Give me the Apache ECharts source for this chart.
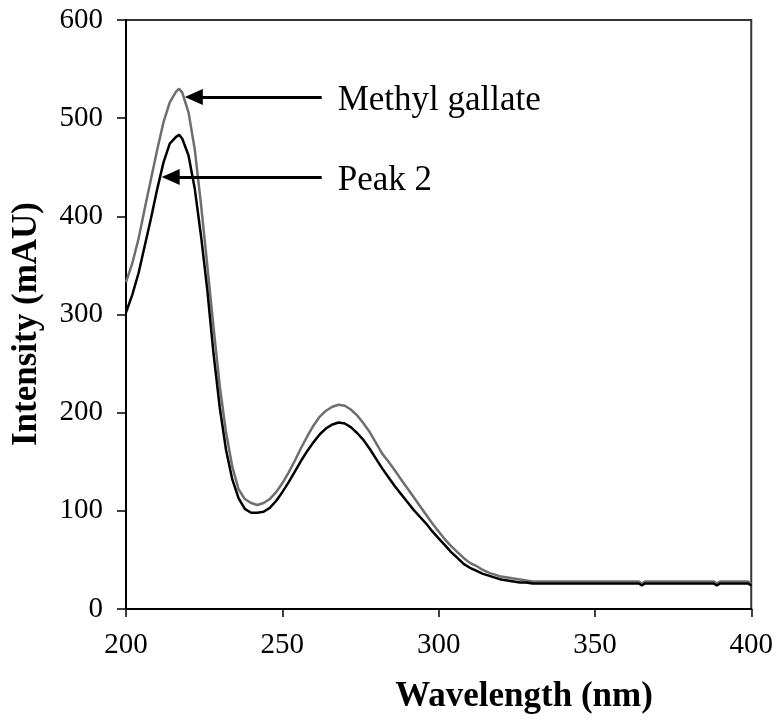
<!DOCTYPE html>
<html>
<head>
<meta charset="utf-8">
<script src="https://cdn.jsdelivr.net/npm/echarts@6/dist/echarts.min.js"></script>
<style>
html,body{margin:0;padding:0;background:#fff;}
#chart{width:776px;height:727px;}
</style>
</head>
<body>
<div id="chart"></div>
<script>
// Wavelength (nm)
const wavelengths = [200,202,204,206,208,210,212,214,216,217,218,220,222,224,226,228,230,232,234,236,238,240,242,244,246,248,250,252,254,256,258,260,262,264,266,268,270,272,274,276,278,280,282,284,286,288,290,292,294,296,298,300,302,304,306,308,310,312,314,316,318,320,322,324,326,328,330,335,340,345,350,355,360,364,365,366,370,375,380,385,388,389,390,395,399,400];
// Methyl gallate (grey)
const methylGallate = [333,352,377,408,438,468,496,516,527,530,526,506,468,412,350,287,227,180,145,122,112,108,106,108,112,119,128,139,151,164,176,187,196,202,206,208,207,203,197,189,180,169,158,150,141,132,123,114,105,96,87,79,71,64,58,52,47,44,40,37,35,33,32,31,30,29,28,28,28,28,28,28,28,28,26,28,28,28,28,28,28,26,28,28,28,26];
// Peak 2 (black)
const peak2 = [302,320,342,370,398,428,455,474,481,483,479,462,428,380,325,260,205,162,132,113,102,98,98,99,103,110,119,129,140,151,161,170,178,184,188,190,189,185,179,172,163,153,143,134,125,117,109,101,94,87,79,72,65,58,52,46,42,39,36,34,32,30,29,28,27,27,26,26,26,26,26,26,26,26,24,26,26,26,26,26,26,24,26,26,26,24];
const xTicks = [200,250,300,350,400];
const yTicks = [0,100,200,300,400,500,600];
// Annotations: [arrow start (wl, value), arrow end wl, label]
const annotations = [
  { label: 'Methyl gallate', from: [221.7, 521.5], toX: 262.6 },
  { label: 'Peak 2', from: [214.3, 440], toX: 262.6 }
];

const FONT = '"Liberation Serif", "DejaVu Serif", serif';
const chart = echarts.init(document.getElementById('chart'), null, {renderer: 'canvas'});

const toPairs = ys => wavelengths.map((w, i) => [w, ys[i]]);

const option = {
  animation: false,
  backgroundColor: '#fff',
  grid: { left: 126, right: 24, top: 20, bottom: 118, show: true, borderColor: '#333', borderWidth: 2, backgroundColor: 'transparent' },
  xAxis: {
    type: 'value', min: xTicks[0], max: xTicks[xTicks.length-1], interval: 50,
    axisLine: { show: true, onZero: false, lineStyle: { color: '#000', width: 2 } },
    axisTick: { show: true, inside: false, length: 8, lineStyle: { color: '#000', width: 1.5 } },
    axisLabel: { margin: 22, fontFamily: FONT, fontSize: 29, color: '#000' },
    splitLine: { show: false }
  },
  yAxis: {
    type: 'value', min: yTicks[0], max: yTicks[yTicks.length-1], interval: 100,
    axisLine: { show: true, onZero: false, lineStyle: { color: '#000', width: 2 } },
    axisTick: { show: true, inside: false, length: 9, lineStyle: { color: '#000', width: 1.5 } },
    axisLabel: { margin: 23, fontFamily: FONT, fontSize: 29, color: '#000' },
    splitLine: { show: false }
  },
  series: [
    {
      name: 'Methyl gallate', type: 'line', showSymbol: false, symbol: 'none',
      data: toPairs(methylGallate),
      lineStyle: { color: '#6e6e6e', width: 2.5 },
      z: 2,
      markLine: {
        silent: true,
        symbol: ['triangle', 'none'],
        symbolSize: [16, 18],
        lineStyle: { color: '#000', width: 3, type: 'solid' },
        label: { show: true, position: 'end', distance: 16, offset: [0, 4], fontFamily: FONT, fontSize: 35, color: '#000', formatter: p => p.name },
        data: annotations.map(a => [
          { name: a.label, coord: a.from },
          { coord: [a.toX, a.from[1]] }
        ])
      }
    },
    {
      name: 'Peak 2', type: 'line', showSymbol: false, symbol: 'none',
      data: toPairs(peak2),
      lineStyle: { color: '#000', width: 2.5 },
      z: 3
    }
  ],
  graphic: [
    { type: 'text', x: 524, y: 697, style: { text: 'Wavelength (nm)', font: 'bold 35px ' + FONT, fill: '#000', textAlign: 'center', textVerticalAlign: 'middle' } },
    { type: 'text', x: 27, y: 324, rotation: Math.PI / 2, style: { text: 'Intensity (mAU)', font: 'bold 35px ' + FONT, fill: '#000', textAlign: 'center', textVerticalAlign: 'middle' } }
  ]
};
chart.setOption(option);
</script>
</body>
</html>
